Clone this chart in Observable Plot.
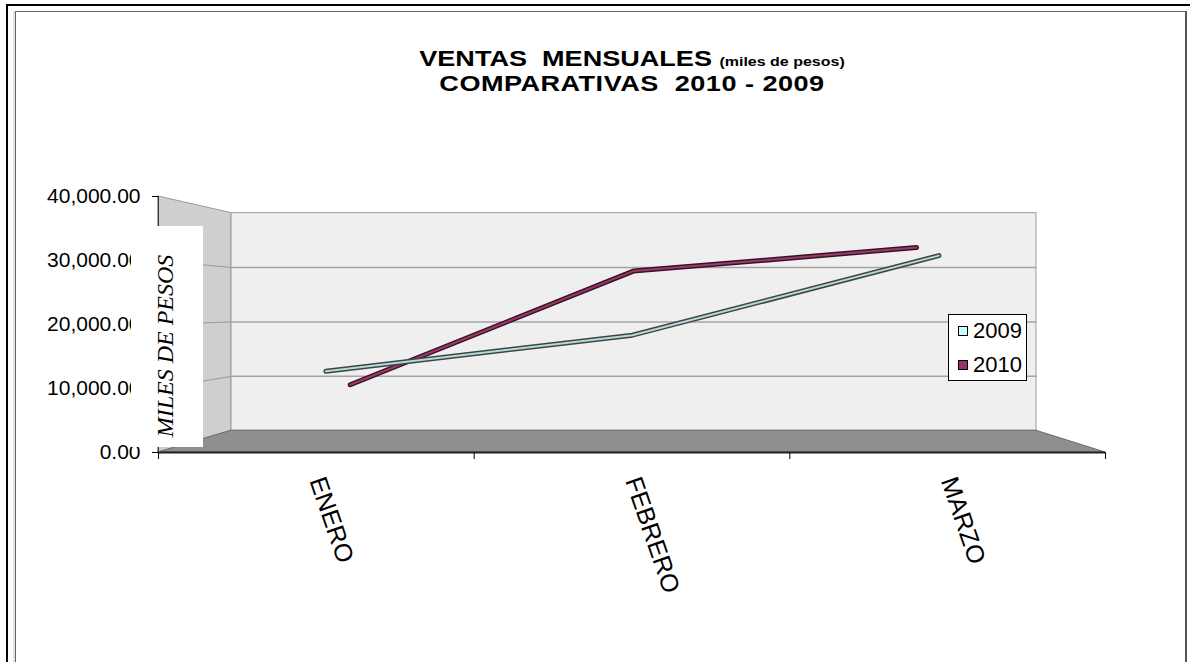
<!DOCTYPE html>
<html><head><meta charset="utf-8">
<script src="https://cdn.jsdelivr.net/npm/d3@7"></script>
<script src="https://cdn.jsdelivr.net/npm/@observablehq/plot@0.6"></script>
<style>
html,body{margin:0;padding:0;background:#fff;}
#wrap{position:relative;width:1190px;height:662px;overflow:hidden;font-family:"Liberation Sans",Arial,sans-serif;background:#fff;}
#outer{position:absolute;left:6px;top:4px;width:1300px;height:800px;border-top:2px solid #000;border-left:2px solid #000;}
#inner{position:absolute;left:15px;top:11px;width:1169px;height:800px;border:1px solid #666;border-right:2px solid #555;box-shadow:-2px 0 0 #e2e2e2;}
#chart{position:absolute;left:0;top:0;}
.title{position:absolute;left:332px;width:600px;text-align:center;font-weight:bold;font-size:22px;line-height:24px;white-space:pre;transform:scaleX(1.23);transform-origin:center;color:#000;}
.small{font-size:13px;}
#legend{position:absolute;left:948px;top:314px;width:77px;height:65px;border:1px solid #000;background:#fff;}
.sw{position:absolute;width:8px;height:8px;border:1px solid #000;}
.lt{position:absolute;font-size:22px;line-height:22px;color:#000;}
#ybox{position:absolute;left:131px;top:226px;width:72px;height:221px;background:#fff;}
#ylab{position:absolute;left:34px;top:119.5px;transform:translate(-50%,-50%) rotate(-90deg);font-family:"Liberation Serif","Times New Roman",serif;font-style:italic;font-size:24px;line-height:24px;white-space:nowrap;color:#000;}
</style>
</head><body>
<div id="wrap">
  <div id="outer"></div>
  <div id="inner"></div>
  <div id="chart"></div>
  <div class="title" style="top:47px;">VENTAS  MENSUALES <span class="small">(miles de pesos)</span></div>
  <div class="title" style="top:72px;letter-spacing:0.4px;">COMPARATIVAS  2010 - 2009</div>
  <div id="legend"></div>
  <div id="ybox"><div id="ylab">MILES DE PESOS</div></div>
</div>
<script>
// ---- data ----
const categorias = ["ENERO", "FEBRERO", "MARZO"];
const series = ["2009", "2010"];
const ventas2009 = [12400, 18200, 31000];
const ventas2010 = [9200, 29000, 33100];
const yTicks = [0, 10000, 20000, 30000, 40000];

// ---- styles ----
const serieFill = ["#ccffff", "#993366"];
const serieInner = ["#b9d9d9", "#9a3a66"];
const serieOutline = ["#3a4646", "#3a1228"];
const nCat = categorias.length;
const yMax = yTicks[yTicks.length - 1];
// 3D perspective: back plane scale, vanishing point (fraction of frame), depth of each series row
const FB = 0.85;
const VU = 0.514 * nCat, VV = 0.5664 * yMax;
const serieDepth = [0.971, 0.897];
const P = (u, v, f) => [VU + (u - VU) * f, VV + (v - VV) * f];

const valores = [ventas2009, ventas2010];
const rows = series.flatMap((s, si) => categorias.map((c, ci) => {
  const [px, py] = P(ci + 0.5, valores[si][ci], serieDepth[si]);
  return {serie: s, si, cat: c, value: valores[si][ci], px, py};
}));

const [bx0, by0] = P(0, 0, FB);
const [bx1, by1] = P(nCat, yMax, FB);
const sideWall = [{x: 0, y1: 0, y2: yMax}, {x: bx0, y1: by0, y2: by1}];
const floor = [{x: 0, y1: 0, y2: 0}, {x: bx0, y1: 0, y2: by0}, {x: bx1, y1: 0, y2: by0}, {x: nCat, y1: 0, y2: 0}];
const backWall = [{x1: bx0, x2: bx1, y1: by0, y2: by1}];
const inner = yTicks.filter(v => v > 0 && v < yMax);
const gridBack = inner.map(v => { const [a, b] = P(0, v, FB); const [c, d] = P(nCat, v, FB); return {x1: a, y1: b, x2: c, y2: d}; });
const gridSide = inner.map(v => { const [a, b] = P(0, v, FB); return {x1: 0, y1: v, x2: a, y2: b}; });

const chart = Plot.plot({
  width: 1190, height: 662,
  marginLeft: 158, marginRight: 85, marginTop: 196, marginBottom: 210,
  style: {background: "transparent", color: "#000", fontFamily: "Liberation Sans, Arial, sans-serif"},
  x: {type: "linear", domain: [0, nCat], axis: null, label: null},
  y: {type: "linear", domain: [0, yMax], axis: null, label: null},
  marks: [
    Plot.areaY(sideWall, {x: "x", y1: "y1", y2: "y2", fill: "#cfcfcf", stroke: "#9a9a9a", strokeWidth: 1}),
    Plot.rect(backWall, {x1: "x1", x2: "x2", y1: "y1", y2: "y2", fill: "#efefef", stroke: "#9a9a9a", strokeWidth: 1}),
    Plot.areaY(floor, {x: "x", y1: "y1", y2: "y2", fill: "#8f8f8f", stroke: "#6a6a6a", strokeWidth: 1}),
    Plot.link(gridBack, {x1: "x1", y1: "y1", x2: "x2", y2: "y2", stroke: "#a4a4a4", strokeWidth: 1.5}),
    Plot.link(gridSide, {x1: "x1", y1: "y1", x2: "x2", y2: "y2", stroke: "#999", strokeWidth: 1}),
    // series ribbons: back row first
    ...[1, 0].flatMap(si => [
      Plot.line(rows.filter(d => d.si === si), {x: "px", y: "py", stroke: serieOutline[si], strokeWidth: 5, strokeLinejoin: "miter"}),
      Plot.line(rows.filter(d => d.si === si), {x: "px", y: "py", stroke: serieInner[si], strokeWidth: 2, strokeLinejoin: "miter"})
    ]),
    Plot.ruleX([0], {y1: 0, y2: yMax, stroke: "#333", strokeWidth: 1}),
    Plot.ruleY([0], {x1: 0, x2: nCat, stroke: "#222", strokeWidth: 2}),
    Plot.axisY({ticks: yTicks, tickSize: 6, tickPadding: 12, tickFormat: d3.format(",.2f"), fontSize: 21, label: null, anchor: "left"}),
    Plot.axisX({ticks: d3.range(nCat + 1), tickSize: 7, tickFormat: () => "", label: null, anchor: "bottom"}),
    Plot.text(categorias, {x: (d, i) => i + 0.5, y: () => 0, text: d => d, rotate: 71, textAnchor: "start", lineAnchor: "bottom", dx: -7, dy: 28, fontSize: 25, fill: "#000"})
  ]
});
document.getElementById("chart").appendChild(chart);

// legend
const lg = document.getElementById("legend");
series.forEach((s, i) => {
  const sw = document.createElement("div");
  sw.className = "sw";
  sw.style.left = "9px"; sw.style.top = (11 + i * 34) + "px"; sw.style.background = serieFill[i];
  lg.appendChild(sw);
  const t = document.createElement("div");
  t.className = "lt"; t.textContent = s;
  t.style.left = "24px"; t.style.top = (5 + i * 34) + "px";
  lg.appendChild(t);
});
</script>
</body></html>
